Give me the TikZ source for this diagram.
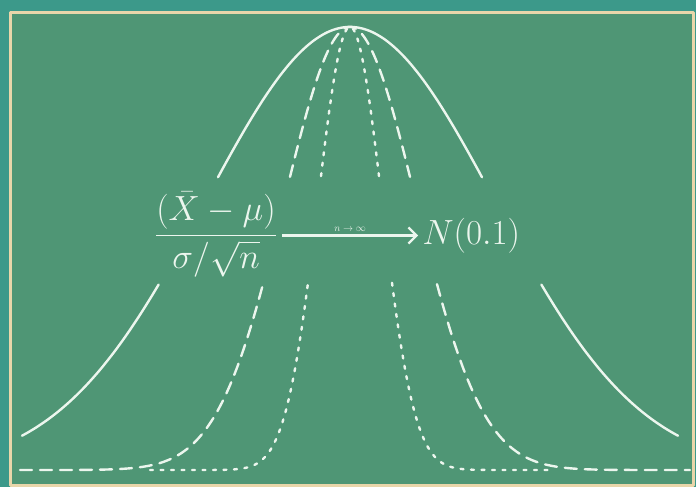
\RequirePackage{fix-cm}
\documentclass[tikz,border=0pt]{standalone}
\usepackage{amsmath}
\usetikzlibrary{arrows.meta}

\definecolor{wall}{RGB}{60,153,138}
\definecolor{board}{RGB}{79,150,117}
\definecolor{trim}{RGB}{233,214,170}
\definecolor{chalkwhite}{RGB}{236,246,238}

\tikzset{
  chalk/.style={draw=chalkwhite, line width=2.4pt, line cap=round},
  widecurve/.style={chalk, dash pattern=on 12pt off 8pt},
  narrowcurve/.style={chalk, dash pattern=on 3pt off 7.5pt},
  chalktext/.style={text=chalkwhite, font=\fontsize{35}{40}\selectfont},
  limitarrow/.style={draw=chalkwhite, line width=2.2pt,
    -{Straight Barb[length=8pt,width=16pt,line width=2.2pt]}},
}

\begin{document}
\begin{tikzpicture}[x=1pt,y=-1pt,line join=round,
  declare function={bell(\x,\s)=470-443*exp(-0.5*((\x-350)/\s)*((\x-350)/\s));}]
  % Match the photo frame, wall strip included.
  \useasboundingbox (0,0) rectangle (696,487);
  \fill[wall] (0,0) rectangle (696,487);
  \filldraw[fill=board, draw=trim, line width=3pt] (10.5,13) rectangle (693,485);

  % Widest curve, solid; broken where the formula sits.
  \draw[chalk] plot[domain=22:158.6, samples=40, smooth] (\x,{bell(\x,145)});
  \draw[chalk] plot[domain=218:482, samples=60, smooth] (\x,{bell(\x,145)});
  \draw[chalk] plot[domain=541.4:678, samples=40, smooth] (\x,{bell(\x,145)});

  % Middle curve, long dashes.
  \draw[widecurve] plot[domain=20:263, samples=60, smooth] (\x,{bell(\x,66)});
  \draw[widecurve] plot[domain=290:410, samples=40, smooth] (\x,{bell(\x,66)});
  \draw[widecurve] plot[domain=437:690, samples=60, smooth] (\x,{bell(\x,66)});

  % Narrowest curve, short dashes.
  \draw[narrowcurve] plot[domain=150:308, samples=60, smooth] (\x,{bell(\x,32)});
  \draw[narrowcurve] plot[domain=321:379, samples=30, smooth] (\x,{bell(\x,32)});
  \draw[narrowcurve] plot[domain=392:550, samples=60, smooth] (\x,{bell(\x,32)});

  % The limit statement across the gap.
  \node[chalktext, anchor=base] (ratio) at (216,244)
    {$\displaystyle\frac{(\bar{X}-\mu)}{\sigma/\sqrt{n}}$};
  \node[chalktext, anchor=base west] (limit) at (419,244) {$N(0.1)$};
  \draw[limitarrow]
    ([xshift=2pt,yshift=8.5pt]ratio.base east) -- ([xshift=-1pt,yshift=8.5pt]limit.base west)
    node[midway, above, text=chalkwhite, font=\fontsize{10}{11}\selectfont] {$n\to\infty$};
\end{tikzpicture}
\end{document}
